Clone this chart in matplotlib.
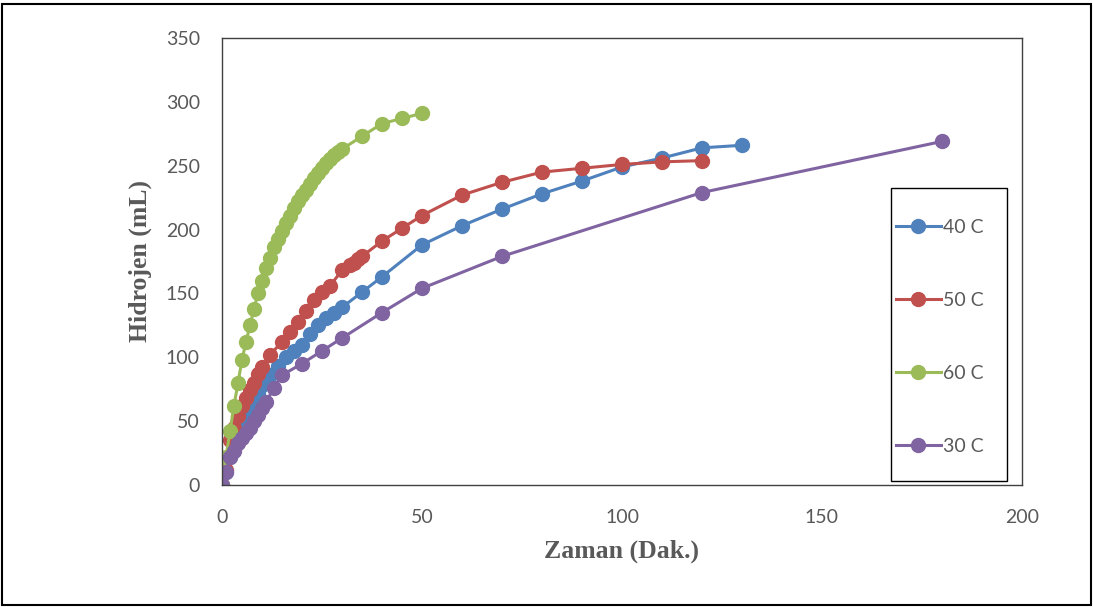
import matplotlib.pyplot as plt
from matplotlib.patches import Rectangle

# data
t40 = [0, 1, 2, 3, 4, 5, 6, 7, 8, 9, 10, 12, 14, 16, 18, 20, 22, 24, 26, 28, 30, 35, 40, 50, 60, 70, 80, 90, 100, 110, 120, 130]
h40 = [0, 10, 22, 30, 38, 45, 52, 60, 66, 72, 78, 86, 93, 100, 105, 110, 118, 125, 131, 135, 139, 151, 163, 188, 203, 216, 228, 238, 249, 256, 264, 266]

t50 = [0, 1, 2, 3, 4, 5, 6, 7, 8, 9, 10, 12, 15, 17, 19, 21, 23, 25, 27, 30, 32, 33, 34, 35, 40, 45, 50, 60, 70, 80, 90, 100, 110, 120]
h50 = [0, 12, 35, 45, 54, 62, 68, 74, 80, 87, 92, 102, 112, 120, 128, 136, 145, 151, 156, 168, 172, 174, 177, 179, 191, 201, 211, 227, 237, 245, 248, 251, 253, 254]

t60 = [0, 1, 2, 3, 4, 5, 6, 7, 8, 9, 10, 11, 12, 13, 14, 15, 16, 17, 18, 19, 20, 21, 22, 23, 24, 25, 26, 27, 28, 29, 30, 35, 40, 45, 50]
h60 = [0, 22, 42, 62, 80, 98, 112, 125, 138, 150, 160, 170, 178, 186, 193, 199, 205, 211, 217, 222, 227, 231, 236, 240, 244, 248, 252, 255, 258, 261, 263, 273, 283, 287, 291]

t30 = [0, 1, 2, 3, 4, 5, 6, 7, 8, 9, 10, 11, 13, 15, 20, 25, 30, 40, 50, 70, 120, 180]
h30 = [0, 10, 22, 27, 33, 37, 41, 45, 50, 55, 60, 65, 76, 86, 95, 105, 115, 135, 154, 179, 229, 269]

series = [(t40, h40, '40 C', '#4F81BD'),
          (t50, h50, '50 C', '#C0504D'),
          (t60, h60, '60 C', '#9BBB59'),
          (t30, h30, '30 C', '#8064A2')]

fig = plt.figure(figsize=(10.93, 6.07), dpi=100)
ax = fig.add_axes([0.2031, 0.201, 0.7319, 0.7364])

for t, h, lab, c in series:
    ax.plot(t, h, '-o', color=c, lw=2.2, markersize=10, label=lab)

ax.set_xlim(0, 200)
ax.set_ylim(0, 350)
ax.set_xticks([0, 50, 100, 150, 200])
ax.set_yticks(range(0, 351, 50))
tick_font = ['Lato', 'DejaVu Sans']
for lbl in ax.get_xticklabels() + ax.get_yticklabels():
    lbl.set_family(tick_font)
    lbl.set_fontsize(14)
    lbl.set_color('#595959')
ax.tick_params(axis='both', length=0)
ax.tick_params(axis='y', pad=16)
ax.tick_params(axis='x', pad=17)
for s in ax.spines.values():
    s.set_color('#404040')
    s.set_linewidth(1.0)

ax.set_xlabel('Zaman (Dak.)', family='Liberation Serif', weight='bold', fontsize=18.5, color='#595959', labelpad=10)
ax.set_ylabel('Hidrojen (mL)', family='Liberation Serif', weight='bold', fontsize=18.5, color='#595959', labelpad=10)

# legend entries without frame, box drawn separately (Excel-style padding)
leg = ax.legend(loc='center', bbox_to_anchor=(0.897, 0.331), frameon=False,
                prop={'family': tick_font, 'size': 14},
                labelspacing=2.88, handlelength=2.3, handletextpad=0.1,
                borderpad=0, borderaxespad=0)
for txt in leg.get_texts():
    txt.set_color('#595959')
ax.add_patch(Rectangle((0.836, 0.009), 0.145, 0.655, transform=ax.transAxes,
                       fill=False, edgecolor='black', linewidth=1.0, zorder=5))

fig.patches.append(Rectangle((0.002, 0.003), 0.996, 0.99, transform=fig.transFigure,
                             fill=False, edgecolor='black', linewidth=1.5))

plt.savefig('out.png', dpi=100)
